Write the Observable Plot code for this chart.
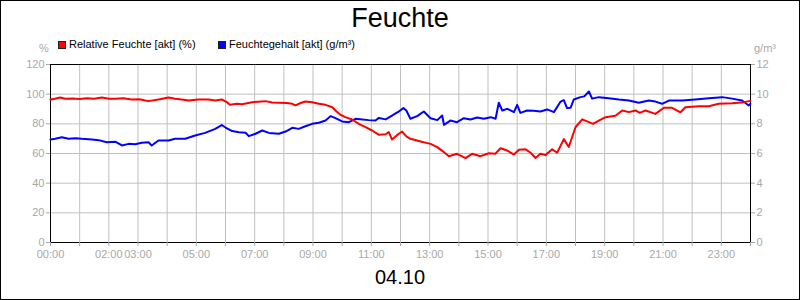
<!DOCTYPE html>
<html><head><meta charset="utf-8">
<script src="https://cdn.jsdelivr.net/npm/d3@7"></script>
<script src="https://cdn.jsdelivr.net/npm/@observablehq/plot@0.6"></script>
<style>
html,body{margin:0;padding:0;background:#fff;}
#wrap{position:relative;width:800px;height:300px;outline:1px solid #000;outline-offset:-1px;font-family:"Liberation Sans",Arial,sans-serif;overflow:hidden;}
#head{position:relative;height:56px;}
#title{position:absolute;left:0;right:0;top:3px;text-align:center;font-size:27px;line-height:30px;color:#000;}
.sw{position:absolute;top:41px;width:6px;height:6px;border:1px solid #222;}
.leg{position:absolute;top:38px;font-size:11px;line-height:13px;color:#000;white-space:nowrap;}
.unit{position:absolute;top:42px;font-size:11px;line-height:13px;color:#a8a8a8;white-space:nowrap;}
#foot{height:38px;text-align:center;font-size:20px;line-height:30px;color:#000;}
svg{display:block;}
</style></head>
<body>
<div id="wrap">
  <div id="head">
    <div id="title">Feuchte</div>
    <div class="unit" style="left:39px">%</div>
    <div class="sw" style="left:58px;background:#ff0000"></div>
    <div class="leg" style="left:69px">Relative Feuchte [akt] (%)</div>
    <div class="sw" style="left:218px;background:#0000ff"></div>
    <div class="leg" style="left:229px">Feuchtegehalt [akt] (g/m³)</div>
    <div class="unit" style="left:754px">g/m³</div>
  </div>
  <div id="chart"></div>
  <div id="foot">04.10</div>
</div>
<script>
// Relative Feuchte [akt] (%) — time in hours of day
const rhHours = [0.0,0.15,0.33,0.5,0.75,1.0,1.25,1.5,1.76,2.0,2.22,2.5,2.79,3.05,3.25,3.36,3.7,4.05,4.27,4.5,4.73,5.07,5.42,5.65,5.87,6.05,6.15,6.4,6.57,6.91,7.37,7.6,7.83,8.1,8.29,8.4,8.6,8.74,8.97,9.2,9.43,9.66,9.8,9.95,10.11,10.34,10.57,10.8,11.03,11.26,11.49,11.6,11.71,11.94,12.06,12.2,12.34,12.69,13.03,13.26,13.49,13.66,13.94,14.23,14.45,14.74,15.03,15.25,15.43,15.66,15.89,16.06,16.29,16.46,16.63,16.8,16.97,17.2,17.37,17.6,17.77,18.0,18.23,18.46,18.6,18.8,19.03,19.37,19.6,19.83,20.06,20.2,20.4,20.74,21.03,21.31,21.6,21.77,22.23,22.57,22.91,23.37,23.71,23.94,24.0];
const rhValues = [96.4,96.9,97.8,96.9,97.0,96.8,97.2,96.9,97.8,96.9,96.9,97.2,96.4,96.6,95.7,95.3,96.4,97.8,96.9,96.4,95.7,96.4,96.4,95.7,96.4,94.6,92.8,93.5,93.2,94.6,95.3,94.4,94.2,94.0,93.5,92.4,94.2,95.0,94.6,93.5,92.8,91.2,88.5,86.0,84.5,82.9,80.0,77.8,75.5,72.6,73.0,74.4,69.4,73.3,74.8,71.5,69.9,68.1,66.5,64.3,60.9,58.2,59.8,56.9,59.8,58.2,60.2,59.8,63.5,62.0,59.3,62.5,62.8,60.5,57.0,59.8,58.9,62.8,60.5,69.7,64.4,77.7,83.0,81.1,80.0,82.2,84.5,85.5,89.0,87.9,89.0,87.4,89.0,86.7,90.8,90.8,87.8,91.2,91.9,91.9,93.5,93.8,94.3,95.3,95.6];

// Feuchtegehalt [akt] (g/m³)
const ahHours = [0.0,0.16,0.39,0.62,0.85,1.07,1.42,1.65,1.93,2.22,2.45,2.68,2.9,3.13,3.36,3.47,3.7,4.05,4.27,4.62,4.96,5.3,5.65,5.87,6.0,6.23,6.46,6.69,6.8,7.03,7.26,7.49,7.83,8.06,8.29,8.51,8.74,8.97,9.2,9.43,9.6,9.77,10.0,10.23,10.46,10.69,10.91,11.14,11.26,11.49,11.71,11.83,11.94,12.1,12.2,12.34,12.57,12.8,13.03,13.26,13.43,13.49,13.71,13.94,14.17,14.4,14.63,14.86,15.09,15.26,15.37,15.49,15.66,15.89,16.0,16.11,16.34,16.57,16.8,17.03,17.26,17.49,17.6,17.71,17.83,17.94,18.17,18.3,18.46,18.57,18.8,19.14,19.49,19.83,20.17,20.51,20.74,20.97,21.2,21.66,22.11,22.57,23.03,23.37,23.71,23.94,24.0];
const ahValues = [6.94,7.0,7.1,7.0,7.03,6.99,6.95,6.9,6.76,6.8,6.54,6.65,6.62,6.72,6.76,6.54,6.88,6.88,6.99,6.99,7.21,7.39,7.66,7.92,7.75,7.51,7.44,7.4,7.17,7.33,7.55,7.39,7.33,7.48,7.73,7.66,7.84,8.0,8.07,8.22,8.52,8.38,8.16,8.11,8.34,8.29,8.25,8.22,8.4,8.3,8.56,8.7,8.83,9.06,8.9,8.34,8.52,8.83,8.38,8.25,8.56,7.93,8.22,8.11,8.38,8.29,8.43,8.34,8.45,8.34,9.42,8.9,9.01,8.79,9.28,8.74,8.9,8.88,8.83,8.97,8.79,9.5,9.6,9.06,9.08,9.64,9.8,9.85,10.18,9.7,9.8,9.73,9.64,9.57,9.42,9.57,9.5,9.35,9.57,9.57,9.64,9.73,9.8,9.7,9.57,9.24,9.35];

// axes
const hourTicks = d3.range(0, 25);
const xTickHours = [0,2,3,5,7,9,11,13,15,17,19,21,23];
const xTickLabels = ["00:00","02:00","03:00","05:00","07:00","09:00","11:00","13:00","15:00","17:00","19:00","21:00","23:00"];
const yTicks = [0,20,40,60,80,100,120];
const yRightLabels = ["0","2","4","6","8","10","12"];

const rh = rhHours.map((t, i) => ({t, v: rhValues[i]}));
const ah = ahHours.map((t, i) => ({t, v: ahValues[i]}));
const grey = "#a8a8a8";

const chart = Plot.plot({
  width: 800,
  height: 206,
  marginTop: 8,
  marginBottom: 20,
  marginLeft: 50,
  marginRight: 50,
  style: {fontFamily: "'Liberation Sans', Arial, sans-serif", fontSize: "11px", background: "transparent", overflow: "visible"},
  x: {type: "linear", domain: [0, 24]},
  y: {domain: [0, 120]},
  marks: [
    Plot.gridX(hourTicks, {stroke: "#c0c0c0", strokeOpacity: 1}),
    Plot.gridY(yTicks, {stroke: "#c0c0c0", strokeOpacity: 1}),
    Plot.frame({stroke: "#000"}),
    Plot.axisX(hourTicks, {
      tickSize: 4, tickPadding: 4, color: grey, label: null,
      tickFormat: h => { const i = xTickHours.indexOf(h); return i >= 0 ? xTickLabels[i] : ""; }
    }),
    Plot.axisY(yTicks, {anchor: "left", tickSize: 4, tickPadding: 2, color: grey, label: null}),
    Plot.axisY(yTicks, {anchor: "right", tickSize: 4, tickPadding: 2, color: grey, label: null,
      tickFormat: d => yRightLabels[yTicks.indexOf(d)]}),
    Plot.line(ah, {x: "t", y: d => d.v * 10, stroke: "#0000ff", strokeWidth: 2}),
    Plot.line(rh, {x: "t", y: "v", stroke: "#ff0000", strokeWidth: 2})
  ]
});
document.getElementById("chart").appendChild(chart);
</script>
</body></html>
